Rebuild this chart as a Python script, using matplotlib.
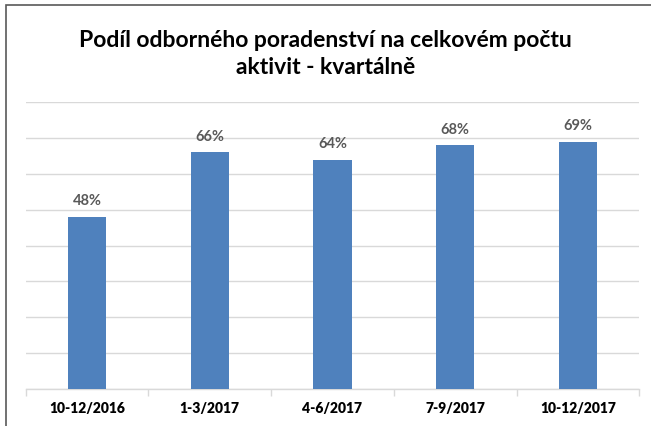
import matplotlib
matplotlib.use("Agg")
import matplotlib.pyplot as plt
from matplotlib.patches import Rectangle
from matplotlib.ticker import MultipleLocator, FixedLocator, NullFormatter

categories = ["10-12/2016", "1-3/2017", "4-6/2017", "7-9/2017", "10-12/2017"]
values = [0.48, 0.66, 0.64, 0.68, 0.69]
title = "Podíl odborného poradenství na celkovém počtu\naktivit - kvartálně"

W, H = 651, 427
fig = plt.figure(figsize=(W / 100, H / 100), dpi=100)
fig.patch.set_facecolor("white")

# outer chart frame (left and top visible)
fig.add_artist(Rectangle((6 / W, -0.05), 1.2, 1.05 - 6 / H,
                         transform=fig.transFigure, fill=False,
                         edgecolor="#595959", linewidth=1.2))

ax = fig.add_axes([25.6 / W, (H - 390) / H, (639.4 - 25.6) / W, (390 - 103.3) / H])
x = range(len(categories))
ax.bar(x, values, width=0.31, color="#4F81BD", zorder=3)
ax.set_xlim(-0.5, len(categories) - 0.5)
ax.set_ylim(0, 0.8)
ax.yaxis.set_major_locator(MultipleLocator(0.1))
ax.grid(axis="y", color="#D9D9D9", linewidth=1, zorder=0)
ax.set_yticklabels([])
ax.tick_params(axis="y", length=0)
for s in ["top", "right", "left"]:
    ax.spines[s].set_visible(False)
ax.spines["bottom"].set_color("#D9D9D9")
ax.spines["bottom"].set_linewidth(1)

ax.set_xticks(list(x))
ax.set_xticklabels(categories, fontsize=10, fontweight="heavy",
                   family=["Lato", "DejaVu Sans"], color="black")
ax.tick_params(axis="x", which="major", length=0, pad=9)
ax.xaxis.set_minor_locator(FixedLocator([i - 0.5 for i in range(len(categories) + 1)]))
ax.xaxis.set_minor_formatter(NullFormatter())
ax.tick_params(axis="x", which="minor", length=5, color="#D9D9D9", width=1)

for xi, v in zip(x, values):
    ax.annotate(f"{round(v * 100)}%", (xi, v), xytext=(0, 7), textcoords="offset points",
                ha="center", va="bottom", fontsize=10.5, fontweight="bold",
                family=["Lato", "DejaVu Sans"], color="#595959")

fig.text(0.5, (H - 54) / H, title, ha="center", va="center", fontsize=16.5,
         fontweight="bold", family=["Lato", "DejaVu Sans"], color="black",
         linespacing=1.3)

fig.savefig("out.png", dpi=100, facecolor="white")
